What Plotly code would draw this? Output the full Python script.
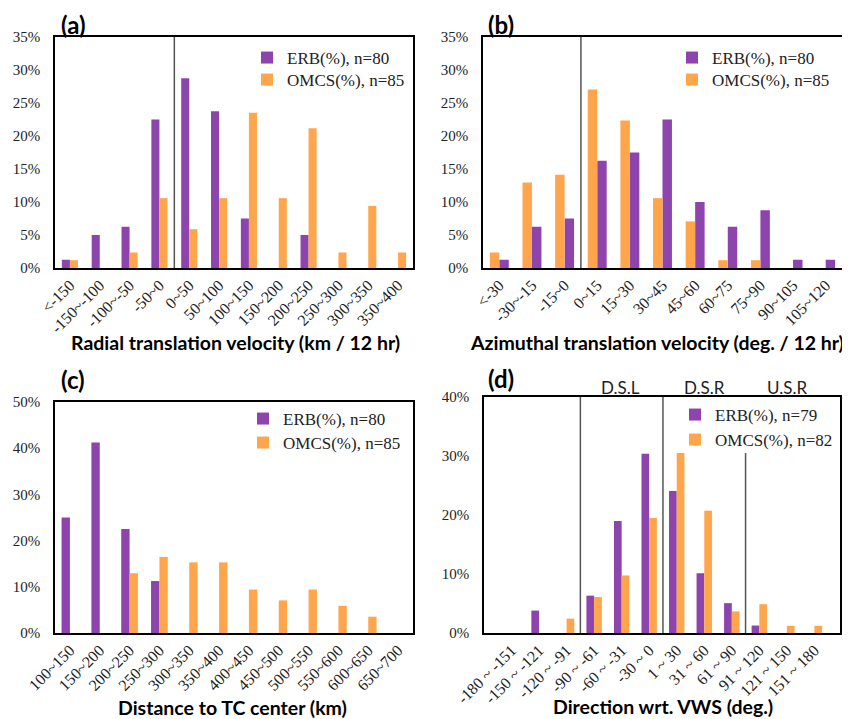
import plotly.graph_objects as go

# ---------------- data ----------------
cat_a = ["<-150", "-150~-100", "-100~-50", "-50~0", "0~50", "50~100", "100~150",
         "150~200", "200~250", "250~300", "300~350", "350~400"]
erb_a = [1.25, 5.0, 6.25, 22.5, 28.75, 23.75, 7.5, 0, 5.0, 0, 0, 0]
omcs_a = [1.18, 0, 2.35, 10.59, 5.88, 10.59, 23.53, 10.59, 21.18, 2.35, 9.41, 2.35]

cat_b = ["<-30", "-30~-15", "-15~0", "0~15", "15~30", "30~45", "45~60", "60~75",
         "75~90", "90~105", "105~120"]
erb_b = [1.25, 6.25, 7.5, 16.25, 17.5, 22.5, 10.0, 6.25, 8.75, 1.25, 1.25]
omcs_b = [2.35, 12.94, 14.12, 27.06, 22.35, 10.59, 7.06, 1.18, 1.18, 0, 0]

cat_c = ["100~150", "150~200", "200~250", "250~300", "300~350", "350~400", "400~450",
         "450~500", "500~550", "550~600", "600~650", "650~700"]
erb_c = [25.0, 41.25, 22.5, 11.25, 0, 0, 0, 0, 0, 0, 0, 0]
omcs_c = [0, 0, 12.94, 16.47, 15.29, 15.29, 9.41, 7.06, 9.41, 5.88, 3.53, 0]

cat_d = ["-180 ~ -151", "-150 ~ -121", "-120 ~ -91", "-90 ~ -61", "-60 ~ -31", "-30 ~ 0",
         "1 ~ 30", "31 ~ 60", "61 ~ 90", "91 ~ 120", "121 ~ 150", "151 ~ 180"]
erb_d = [0, 3.80, 0, 6.33, 18.99, 30.38, 24.05, 10.13, 5.06, 1.27, 0, 0]
omcs_d = [0, 0, 2.44, 6.10, 9.76, 19.51, 30.49, 20.73, 3.66, 4.88, 1.22, 1.22]

ticks_a = [0, 5, 10, 15, 20, 25, 30, 35]
ticks_c = [0, 10, 20, 30, 40, 50]
ticks_d = [0, 10, 20, 30, 40]

# ---------------- style ----------------
WIN_W, WIN_H = 850, 719
OFF = 8  # default page margin of the html body
W, H = WIN_W - OFF, WIN_H - OFF
PURPLE = "#8E44AD"
ORANGE = "#FFA64D"
SERIF = "Liberation Serif"
SANS = "Lato"


def px_x(p):
    return (p - OFF) / W


def px_y(p):
    return 1 - (p - OFF) / H


def pct(vals):
    return [f"{v}%" for v in vals]


fig = go.Figure()

# legend placement per panel: (x of legend box, y of ERB row, y of OMCS row) in window px
panels = [
    ("x", "y", cat_a, erb_a, omcs_a, "ERB(%), n=80", "OMCS(%), n=85", False, 0.27, (247, 58, 80)),
    ("x2", "y2", cat_b, erb_b, omcs_b, "ERB(%), n=80", "OMCS(%), n=85", True, 0.29, (672, 58, 80)),
    ("x3", "y3", cat_c, erb_c, omcs_c, "ERB(%), n=80", "OMCS(%), n=85", False, 0.28, (243, 419, 443)),
    ("x4", "y4", cat_d, erb_d, omcs_d, "ERB(%), n=79", "OMCS(%), n=82", False, 0.28, (675, 415, 440)),
]

legend_common = dict(font=dict(family=SERIF, size=17, color="#222"), bgcolor="rgba(0,0,0,0)",
                     itemwidth=30, tracegroupgap=0, xanchor="left", yanchor="middle")
legends = {}
lg_i = 0
for xa, ya, cats, erb, omcs, le, lo, omcs_first, w, (lx, ly1, ly2) in panels:
    idx = list(range(len(cats)))
    erb_off = 0 if omcs_first else -w
    omcs_off = -w if omcs_first else 0
    lg_i += 1
    lg1 = "legend" if lg_i == 1 else f"legend{lg_i}"
    legends[lg1] = dict(legend_common, x=px_x(lx), y=px_y(ly1))
    lg_i += 1
    lg2 = f"legend{lg_i}"
    legends[lg2] = dict(legend_common, x=px_x(lx), y=px_y(ly2))
    fig.add_trace(go.Bar(x=idx, y=erb, name=le, xaxis=xa, yaxis=ya, legend=lg1,
                         width=w, offset=erb_off,
                         marker=dict(color=PURPLE, line=dict(width=0))))
    fig.add_trace(go.Bar(x=idx, y=omcs, name=lo, xaxis=xa, yaxis=ya, legend=lg2,
                         width=w, offset=omcs_off,
                         marker=dict(color=ORANGE, line=dict(width=0))))

fig.update_layout(showlegend=True, **legends)

axis_common = dict(showline=True, mirror=True, linecolor="black", linewidth=1.5,
                   showgrid=False, zeroline=False, ticks="", automargin=False)
xfont = dict(family=SERIF, size=16, color="#222")
yfont = dict(family=SERIF, size=15, color="#222")

doms = {
    "a": dict(x=[px_x(55), px_x(413)], y=[px_y(268), px_y(37)]),
    "b": dict(x=[px_x(483), px_x(842)], y=[px_y(268), px_y(37)]),
    "c": dict(x=[px_x(55), px_x(413)], y=[px_y(633), px_y(402)]),
    "d": dict(x=[px_x(484), px_x(840)], y=[px_y(633), px_y(397)]),
}

fig.update_layout(
    xaxis=dict(axis_common, domain=doms["a"]["x"], anchor="y", range=[-0.5, 11.5],
               tickvals=list(range(len(cat_a))), ticktext=cat_a, tickangle=-45, tickfont=xfont),
    yaxis=dict(axis_common, domain=doms["a"]["y"], anchor="x", range=[0, 35],
               tickvals=ticks_a, ticktext=pct(ticks_a), tickfont=yfont, ticklabelstandoff=10),
    xaxis2=dict(axis_common, domain=doms["b"]["x"], anchor="y2", range=[-0.5, 10.5],
                tickvals=list(range(len(cat_b))), ticktext=cat_b, tickangle=-45, tickfont=xfont),
    yaxis2=dict(axis_common, domain=doms["b"]["y"], anchor="x2", range=[0, 35],
                tickvals=ticks_a, ticktext=pct(ticks_a), tickfont=yfont, ticklabelstandoff=10),
    xaxis3=dict(axis_common, domain=doms["c"]["x"], anchor="y3", range=[-0.5, 11.5],
                tickvals=list(range(len(cat_c))), ticktext=cat_c, tickangle=-45, tickfont=xfont),
    yaxis3=dict(axis_common, domain=doms["c"]["y"], anchor="x3", range=[0, 50],
                tickvals=ticks_c, ticktext=pct(ticks_c), tickfont=yfont, ticklabelstandoff=10),
    xaxis4=dict(axis_common, domain=doms["d"]["x"], anchor="y4", range=[-1.0, 11.93],
                tickvals=list(range(len(cat_d))), ticktext=cat_d, tickangle=-45, tickfont=xfont),
    yaxis4=dict(axis_common, domain=doms["d"]["y"], anchor="x4", range=[0, 40],
                tickvals=ticks_d, ticktext=pct(ticks_d), tickfont=yfont, ticklabelstandoff=10),
)

# divider lines
dividers = [("x", 3.5, 1.0), ("x2", 2.5, 1.0), ("x4", 2.5, 1.0), ("x4", 5.5, 1.0), ("x4", 8.5, 30.5 / 40)]
for xr, xv, top in dividers:
    yr = {"x": "y", "x2": "y2", "x4": "y4"}[xr]
    fig.add_shape(type="line", xref=xr, yref=yr + " domain", x0=xv, x1=xv, y0=0, y1=top,
                  line=dict(color="#555", width=1.5))

# annotations
ann = []
for txt, x, y in [("(a)", 59, 25), ("(b)", 486, 25), ("(c)", 59, 379), ("(d)", 486, 378)]:
    ann.append(dict(text=txt, x=px_x(x), y=px_y(y), xref="paper", yref="paper",
                    xanchor="left", yanchor="middle", showarrow=False,
                    font=dict(family=SANS, size=24, color="black", weight="bold")))
for txt, x, y in [("Radial translation velocity (km / 12 hr)", 235, 343),
                  ("Azimuthal translation velocity (deg. / 12 hr)", 657, 343),
                  ("Distance to TC center (km)", 232, 707),
                  ("Direction wrt. VWS (deg.)", 663, 706)]:
    ann.append(dict(text=txt, x=px_x(x), y=px_y(y), xref="paper", yref="paper",
                    xanchor="center", yanchor="middle", showarrow=False,
                    font=dict(family=SANS, size=19.5, color="black", weight="bold")))
for txt, x in [("D.S.L", 620), ("D.S.R", 704), ("U.S.R", 787)]:
    ann.append(dict(text=txt, x=px_x(x), y=px_y(388), xref="paper", yref="paper",
                    xanchor="center", yanchor="middle", showarrow=False,
                    font=dict(family=SANS, size=17, color="#222")))

fig.update_layout(
    annotations=ann,
    width=W, height=H,
    margin=dict(l=0, r=0, t=0, b=0, autoexpand=False),
    plot_bgcolor="white", paper_bgcolor="white",
    barmode="overlay",
)

fig.write_html("out.html")
